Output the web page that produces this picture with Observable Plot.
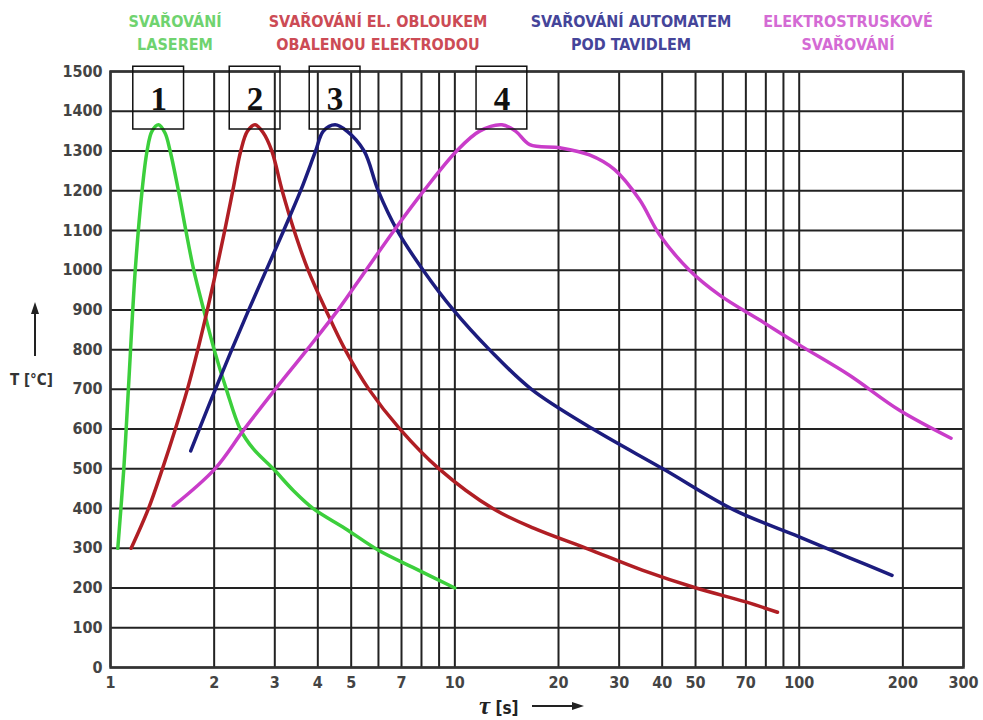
<!DOCTYPE html>
<html><head><meta charset="utf-8">
<script src="https://cdn.jsdelivr.net/npm/d3@7"></script>
<script src="https://cdn.jsdelivr.net/npm/@observablehq/plot@0.6"></script>
<style>
body{margin:0;background:#fff;}
#wrap{position:relative;width:983px;height:720px;font-family:"DejaVu Sans Condensed","DejaVu Sans",sans-serif;font-stretch:condensed;}
.hdr{position:absolute;top:10px;text-align:center;font-size:16px;font-weight:bold;line-height:23px;transform:translateX(-50%);white-space:nowrap;}
#ylab{position:absolute;left:10px;top:371px;font-size:15px;font-weight:bold;color:#333;white-space:nowrap;}
#xlab{position:absolute;left:479px;top:692px;font-size:17px;font-weight:bold;color:#222;white-space:nowrap;}
#xlab i{font-family:"Liberation Serif",serif;font-size:25px;}
.arr{position:absolute;}
svg{display:block;}
</style></head>
<body><div id="wrap"></div>
<script>
// ---- data ----
const xTicks = [1, 2, 3, 4, 5, 7, 10, 20, 30, 40, 50, 70, 100, 200, 300];
const xGrid = [1,2,3,4,5,6,7,8,9,10,20,30,40,50,60,70,80,90,100,200,300];
const yTicks = [0,100,200,300,400,500,600,700,800,900,1000,1100,1200,1300,1400,1500];

const laserX = [1.05, 1.093, 1.127, 1.18, 1.235, 1.277, 1.32, 1.38, 1.44, 1.49, 1.575, 1.655, 1.745, 1.865, 2.0, 2.17, 2.38, 2.6, 2.97, 3.4, 3.88, 4.8, 6.0, 7.55, 10];
const laserY = [300, 500, 700, 1000, 1200, 1300, 1350, 1366, 1345, 1300, 1200, 1100, 1000, 900, 800, 700, 600, 550, 500, 445, 400, 350, 295, 252, 200];

const arcX = [1.148, 1.289, 1.415, 1.543, 1.672, 1.793, 1.911, 2.029, 2.147, 2.265, 2.389, 2.5, 2.63, 2.78, 2.94, 3.152, 3.414, 3.749, 4.22, 4.8, 5.63, 6.93, 9.0, 12.9, 17, 24.1, 35, 50.2, 70, 86.5];
const arcY = [300, 400, 500, 600, 700, 800, 900, 1000, 1100, 1200, 1300, 1350, 1366, 1345, 1300, 1200, 1100, 1000, 900, 800, 700, 600, 500, 400, 350, 300, 245, 200, 165, 139];

const subX = [1.71, 1.811, 2.016, 2.25, 2.52, 2.833, 3.184, 3.566, 3.942, 4.15, 4.49, 4.86, 5.45, 5.99, 6.8, 8.09, 9.9, 12.6, 16.7, 25.2, 40.2, 64.8, 100, 140, 186];
const subY = [545, 600, 700, 800, 900, 1000, 1100, 1200, 1300, 1350, 1366, 1350, 1300, 1200, 1100, 1000, 900, 800, 700, 600, 500, 396, 329, 276, 232];

const esX = [1.52, 2.01, 2.446, 3.008, 3.724, 4.58, 5.52, 6.66, 8.13, 10.12, 11.8, 13.7, 15, 16.5, 20.2, 24.6, 29.1, 34.4, 39.3, 48, 58.6, 76.6, 100, 139.6, 195, 276];
const esY = [406, 500, 600, 700, 800, 900, 1000, 1100, 1200, 1300, 1350, 1366, 1350, 1316, 1308, 1290, 1253, 1177, 1089, 1000, 938, 875, 812, 736, 648, 577];

const seriesNames = ["1", "2", "3", "4"];
const seriesColors = ["#3ccf3c", "#b01e24", "#1c1c7e", "#c93cc9"];
const headerLines = [
  ["SVAŘOVÁNÍ", "LASEREM"],
  ["SVAŘOVÁNÍ EL. OBLOUKEM", "OBALENOU ELEKTRODOU"],
  ["SVAŘOVÁNÍ AUTOMATEM", "POD TAVIDLEM"],
  ["ELEKTROSTRUSKOVÉ", "SVAŘOVÁNÍ"]
];
const headerColors = ["#6fd36f", "#cc4b55", "#45459a", "#d46bd4"];

// ---- build ----
const raw = [[laserX, laserY], [arcX, arcY], [subX, subY], [esX, esY]];
const series = raw.map(([xs, ys], i) => xs.map((x, j) => ({x, y: ys[j], s: seriesNames[i]})));
const peaks = series.map(pts => pts.reduce((a, b) => (b.y > a.y ? b : a)));
const boxK = 1.185;
const font = "'DejaVu Sans Condensed','DejaVu Sans',sans-serif";

const marks = [
  Plot.ruleX(xGrid, {stroke: "#222", strokeWidth: 2}),
  Plot.ruleY(yTicks, {stroke: "#222", strokeWidth: 2}),
  Plot.frame({stroke: "#333", strokeWidth: 2.5}),
  Plot.text(xTicks, {x: d => d, frameAnchor: "bottom", dy: 20, text: d => String(d), fontSize: 16, fontWeight: "bold", fill: "#444", fontFamily: font}),
  Plot.axisY(yTicks, {tickSize: 0, tickPadding: 8, tickFormat: d => String(d), label: null, fontSize: 16, fontWeight: "bold", fill: "#444", fontFamily: font}),
  ...series.map((pts, i) => Plot.line(pts, {x: "x", y: "y", stroke: seriesColors[i], strokeWidth: 3.5, curve: "catmull-rom"})),
  Plot.rect(peaks, {x1: d => d.x / boxK, x2: d => d.x * boxK, y1: d => d.y - 12, y2: d => d.y + 146, fill: "none", stroke: "#111", strokeWidth: 1.5}),
  Plot.text(peaks, {x: "x", y: d => d.y + 64, text: "s", fontFamily: "Liberation Serif, serif", fontWeight: "bold", fontSize: 33, fill: "#111"})
];

const chart = Plot.plot({
  width: 983, height: 720,
  marginLeft: 110, marginRight: 20, marginTop: 71, marginBottom: 53,
  x: {type: "log", domain: [1, 300], axis: null},
  y: {domain: [0, 1500]},
  style: {fontFamily: font, fontSize: "16px", fontWeight: "bold", color: "#444", background: "white", overflow: "visible"},
  marks
});
const wrap = document.getElementById("wrap");
wrap.appendChild(chart);

const hx = [175, 378, 631, 848];
headerLines.forEach((lines, i) => {
  const d = document.createElement("div");
  d.className = "hdr";
  d.style.left = hx[i] + "px";
  d.style.color = headerColors[i];
  d.innerHTML = lines.join("<br>");
  wrap.appendChild(d);
});
const yl = document.createElement("div");
yl.id = "ylab";
yl.textContent = "T [°C]";
wrap.appendChild(yl);
const ya = document.createElement("div");
ya.className = "arr";
ya.style.left = "29px"; ya.style.top = "300px";
ya.innerHTML = '<svg width="12" height="58"><line x1="6" y1="12" x2="6" y2="56" stroke="#222" stroke-width="2"/><path d="M2,14 L6,2 L10,14 Z" fill="#222"/></svg>';
wrap.appendChild(ya);
const xl = document.createElement("div");
xl.id = "xlab";
xl.innerHTML = '<i>τ</i> [s]';
wrap.appendChild(xl);
const xa = document.createElement("div");
xa.className = "arr";
xa.style.left = "532px"; xa.style.top = "700px";
xa.innerHTML = '<svg width="54" height="12"><line x1="0" y1="6" x2="42" y2="6" stroke="#222" stroke-width="2"/><path d="M40,2 L52,6 L40,10 Z" fill="#222"/></svg>';
wrap.appendChild(xa);
</script>
</body></html>
